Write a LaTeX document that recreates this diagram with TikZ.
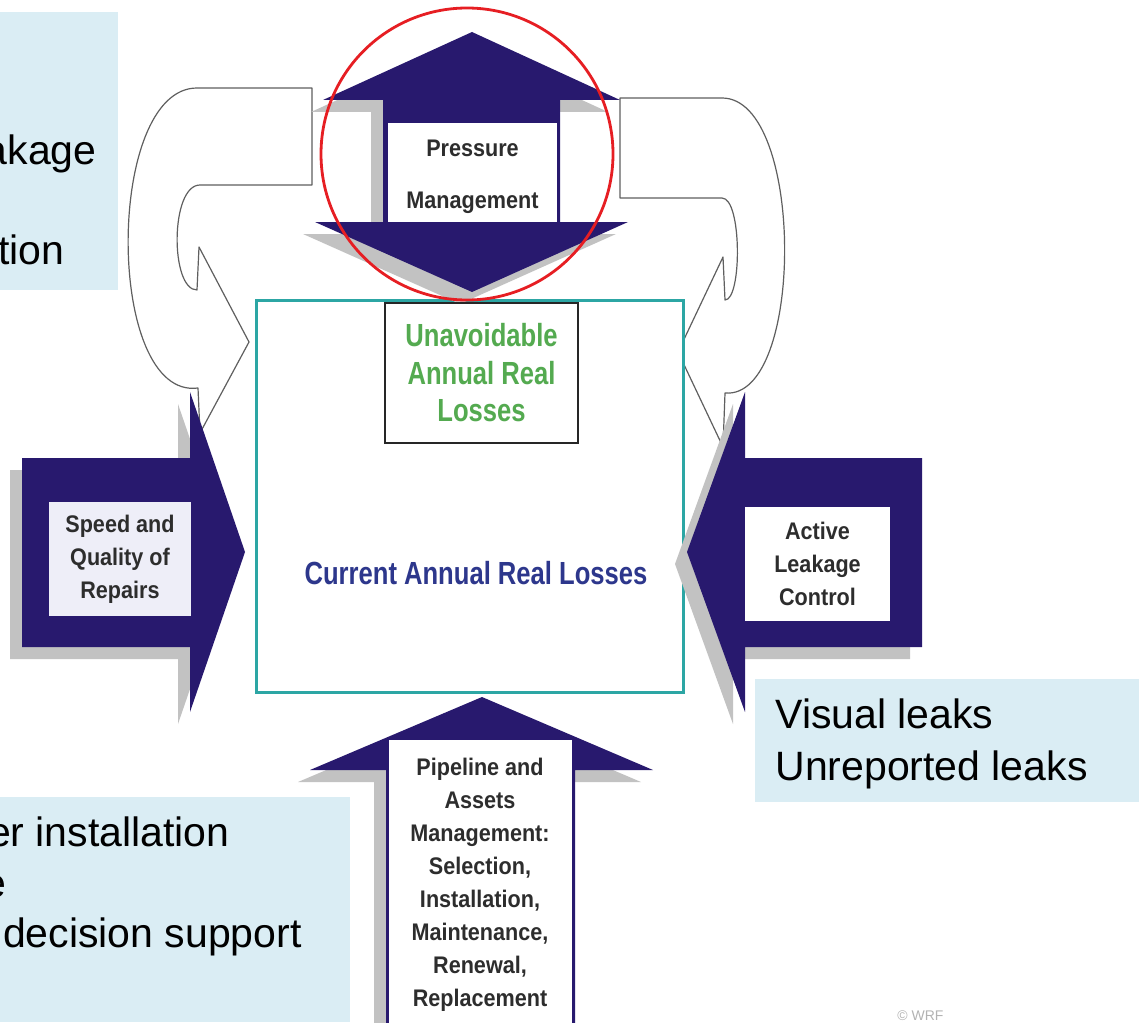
\documentclass[tikz,border=0pt]{standalone}
\usepackage{fontspec}
\setmainfont{Liberation Sans}
\newfontfamily\narrowsf{Liberation Sans}[FakeStretch=0.8]
\newfontfamily\labelsf{Liberation Sans}[FakeStretch=0.9]
\usetikzlibrary{shadows}
\definecolor{navy}{RGB}{40,25,110}
\definecolor{notefill}{RGB}{218,237,244}
\definecolor{tealline}{RGB}{44,166,164}
\definecolor{unavgreen}{RGB}{84,170,80}
\definecolor{curblue}{RGB}{45,55,140}
\definecolor{labelgray}{RGB}{45,45,45}
\definecolor{bandgray}{RGB}{95,95,95}
\definecolor{ringred}{RGB}{230,30,35}
\definecolor{boxlav}{RGB}{238,238,248}

\begin{document}
\begin{tikzpicture}[x=0.5pt,y=-0.5pt,
    navyarrow/.style={fill=navy,drop shadow={shadow xshift=-6pt,shadow yshift=-6pt,fill=black!24,opacity=1}},
    loopband/.style={draw=bandgray,fill=white,line width=0.6pt,line join=round},
    innerbox/.style={rectangle,fill=white,inner sep=0pt},
    labeltext/.style={font=\labelsf\bfseries\fontsize{12}{16.5}\selectfont,text=labelgray,align=center},
    losstext/.style={font=\narrowsf\bfseries\fontsize{16}{18.75}\selectfont,align=center},
    notebox/.style={fill=notefill},
    notetext/.style={font=\fontsize{20.5}{25}\selectfont,anchor=base east,inner sep=0pt}]
\useasboundingbox (0,0) rectangle (1139,1022);

\path[notebox] (0,12) rectangle (118,290);
\path[notebox] (0,797) rectangle (350,1022);
\path[notebox] (755,679) rectangle (1139,802);
\node[notetext] (tl1) at (97,164) {akage};
\node[notetext] (tl2) at (65,264) {tion};
\node[notetext] (bl1) at (230,846) {er installation};
\node[notetext] (bl2) at (7,897) {e};
\node[notetext] (bl3) at (302,947) {decision support};
\node[notetext,anchor=base west] (vl) at (775,728) {Visual leaks};
\node[notetext,anchor=base west] (ul) at (775,780) {Unreported leaks};

\path[loopband] (312,88) -- (197,88) .. controls (105,88) and (105,400) .. (198,388)
    -- (200,433) -- (249,342) -- (199,247) -- (197,290)
    .. controls (170,290) and (170,185) .. (200,185) -- (312,185) -- cycle;
\path[loopband] (620,98) -- (722,98) .. controls (805,98) and (805,400) .. (725,393)
    -- (723,447) -- (678,352) -- (723,257) -- (725,300)
    .. controls (742,300) and (742,198) .. (722,198) -- (620,198) -- cycle;

\node[draw=tealline,line width=1.5pt,fill=white,minimum width=213.5pt,minimum height=196pt,inner sep=0pt] (real) at (469.5,496) {};

\path[navyarrow] (472,32) -- (620,100) -- (560,100) -- (560,222) -- (628,222) -- (472,292)
    -- (315,222) -- (383,222) -- (383,100) -- (323,100) -- cycle;
\path[navyarrow] (22,458) -- (190,458) -- (190,392) -- (245,552) -- (190,712) -- (190,647) -- (22,647) -- cycle;
\path[navyarrow] (922,458) -- (745,458) -- (745,392) -- (687,552) -- (745,712) -- (745,647) -- (922,647) -- cycle;
\path[navyarrow] (482,697) -- (653,770) -- (575,770) -- (575,1040) -- (386,1040) -- (386,770) -- (310,770) -- cycle;

\node[innerbox,minimum width=84.5pt,minimum height=49.5pt] (pmbox) at (472.5,172.5) {};
\node[labeltext] (pm) at (472.5,176.5) {Pressure\\[9.5pt]Management};
\node[innerbox,labeltext,fill=boxlav,draw=navy,line width=0.8pt,minimum width=72pt,minimum height=58pt] (sq) at (120,559) {Speed and\\Quality of\\Repairs};
\node[innerbox,labeltext,minimum width=72.5pt,minimum height=57pt] (alc) at (817.5,564) {Active\\Leakage\\Control};
\node[innerbox,minimum width=91.5pt,minimum height=150pt] (pabox) at (480.5,890) {};
\node[labeltext] (pa) at (480,885) {Pipeline and\\Assets\\Management:\\Selection,\\Installation,\\Maintenance,\\Renewal,\\Replacement};

\node[draw=black!85,line width=0.7pt,fill=white,minimum width=96.5pt,minimum height=70pt,inner sep=0pt,losstext,text=unavgreen] (unav) at (481.5,373) {Unavoidable\\Annual Real\\Losses};
\node[losstext,text=curblue] (cur) at (476,573) {Current Annual Real Losses};

\node[circle,draw=ringred,line width=1.4pt,minimum size=146pt,inner sep=0pt] (ring) at (467,154) {};
\node[font=\fontsize{7}{8}\selectfont,text=black!30,anchor=base west,inner sep=0pt] (wrf) at (897,1020) {\textcopyright\ WRF};
\end{tikzpicture}
\end{document}
